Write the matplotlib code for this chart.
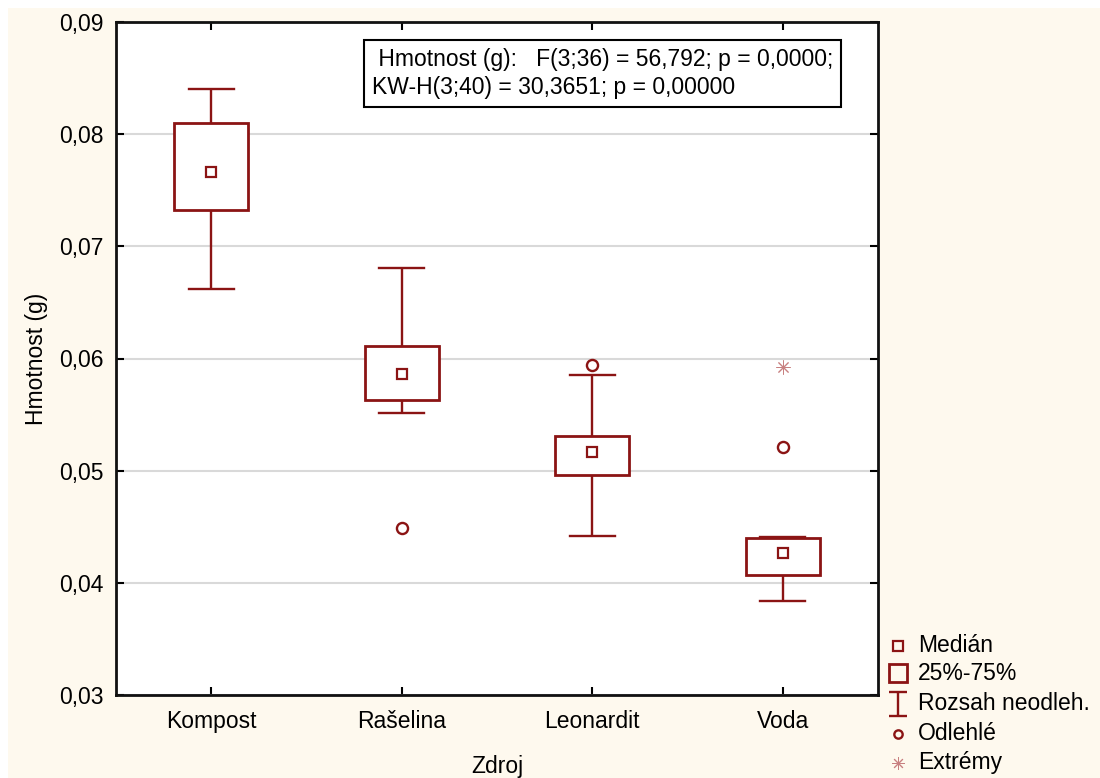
import matplotlib
matplotlib.use("Agg")
import matplotlib.pyplot as plt
from matplotlib.lines import Line2D
from matplotlib.patches import Rectangle
from matplotlib.path import Path
from matplotlib.ticker import FuncFormatter, FixedLocator

plt.rcParams['font.family'] = ['Liberation Sans', 'DejaVu Sans']

categories = ["Kompost", "Rašelina", "Leonardit", "Voda"]
medians = [0.0766, 0.0586, 0.0517, 0.0427]
q1 = [0.0732, 0.0563, 0.0496, 0.0407]
q3 = [0.0810, 0.0611, 0.0531, 0.0440]
whisk_lo = [0.0662, 0.0551, 0.0442, 0.0384]
whisk_hi = [0.0840, 0.0681, 0.0585, 0.0441]
outliers_x = ["Rašelina", "Leonardit", "Voda"]
outliers_y = [0.0449, 0.0594, 0.0521]
extremes_x = ["Voda"]
extremes_y = [0.0592]
yticks = [0.03, 0.04, 0.05, 0.06, 0.07, 0.08, 0.09]
stats_text = " Hmotnost (g):   F(3;36) = 56,792; p = 0,0000;\nKW-H(3;40) = 30,3651; p = 0,00000"
legend_labels = ["Medián", "25%-75%", "Rozsah neodleh.", "Odlehlé", "Extrémy"]

RED = "#8b1414"
EXT = "#c88080"
BG = "#fef9ee"
FS = 16.5

fig = plt.figure(figsize=(11, 7.78), dpi=100)
fig.patch.set_facecolor("white")
fig.add_artist(Rectangle((8 / 1100, 0), 1 - 8 / 1100, 1 - 8 / 778,
                         transform=fig.transFigure, facecolor=BG,
                         edgecolor="none", zorder=-10))

ax = fig.add_axes([116 / 1100, 1 - 695 / 778, 762 / 1100, 673 / 778])
ax.set_facecolor("white")

pos = {c: i + 1 for i, c in enumerate(categories)}
bw = 0.39
cw = 0.236
LW = 1.7
for i, c in enumerate(categories):
    x = pos[c]
    ax.plot([x, x], [q3[i], whisk_hi[i]], color=RED, lw=LW, zorder=3, solid_capstyle="butt")
    ax.plot([x, x], [whisk_lo[i], q1[i]], color=RED, lw=LW, zorder=3, solid_capstyle="butt")
    ax.plot([x - cw / 2, x + cw / 2], [whisk_hi[i]] * 2, color=RED, lw=LW, zorder=3)
    ax.plot([x - cw / 2, x + cw / 2], [whisk_lo[i]] * 2, color=RED, lw=LW, zorder=3)
    ax.add_patch(Rectangle((x - bw / 2, q1[i]), bw, q3[i] - q1[i],
                           facecolor="white", edgecolor=RED, lw=2.0, zorder=4))
    ax.plot([x], [medians[i]], marker="s", ms=7.5, mfc="white", mec=RED, mew=1.6, zorder=5)

ax.plot([pos[c] for c in outliers_x], outliers_y, ls="none", marker="o", ms=8,
        mfc="white", mec=RED, mew=1.7, zorder=5)
ax.plot([pos[c] for c in extremes_x], extremes_y, ls="none", marker=(8, 2, 0), ms=10,
        color=EXT, mew=0.7, zorder=5)

ax.set_xlim(0.5, 4.5)
ax.set_ylim(0.03, 0.09)
ax.xaxis.set_major_locator(FixedLocator([1, 2, 3, 4]))
ax.set_xticklabels(categories)
ax.yaxis.set_major_locator(FixedLocator(yticks))
ax.yaxis.set_major_formatter(FuncFormatter(lambda v, p: f"{v:.2f}".replace(".", ",")))
ax.grid(axis="y", color="#d9d9d9", lw=1.5, zorder=0)
ax.set_axisbelow(True)
ax.tick_params(direction="in", length=6, width=1.5, top=True, right=True,
               labelsize=FS, colors="black", pad=9)
ax.tick_params(axis="x", pad=11)
for s in ax.spines.values():
    s.set_linewidth(2)
    s.set_color("#111111")

ax.set_ylabel("Hmotnost (g)", fontsize=FS, labelpad=8)
ax.set_xlabel("Zdroj", fontsize=FS, labelpad=16)

ax.text(0.336, 0.962, stats_text, transform=ax.transAxes, fontsize=FS,
        ha="left", va="top", linespacing=1.3,
        bbox=dict(boxstyle="square,pad=0.35", facecolor="white", edgecolor="black", lw=1.5),
        zorder=10)

# legend (manual)
def fx(px):
    return px / 1100

def fy(py):
    return 1 - py / 778

ibeam = Path([(-0.75, 1), (0.75, 1), (0, 1), (0, -1), (-0.75, -1), (0.75, -1)],
             [Path.MOVETO, Path.LINETO, Path.MOVETO, Path.LINETO, Path.MOVETO, Path.LINETO])
leg_y = [646, 673, 704, 734, 763]
leg_markers = [
    dict(marker="s", ms=6.5, mfc="none", mec=RED, mew=1.6),
    dict(marker="s", ms=13, mfc="none", mec=RED, mew=2.0),
    dict(marker=ibeam, ms=17, mfc="none", mec=RED, mew=1.7),
    dict(marker="o", ms=6, mfc="none", mec=RED, mew=1.7),
    dict(marker=(8, 2, 0), ms=9, mec=EXT, mew=0.7),
]
for ly, lab, mk in zip(leg_y, legend_labels, leg_markers):
    fig.add_artist(Line2D([fx(898)], [fy(ly)], transform=fig.transFigure, **mk))
    fig.text(fx(918), fy(ly), lab, fontsize=FS, ha="left", va="center")

fig.savefig("out.png", dpi=100, facecolor=fig.get_facecolor())
